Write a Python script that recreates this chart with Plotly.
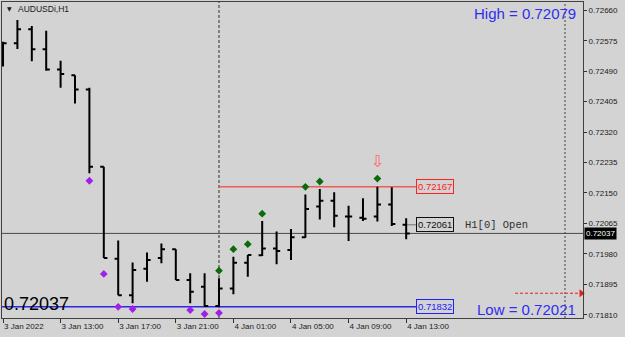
import plotly.graph_objects as go

# ---- data (AUDUSDi, H1) ----
bar_idx = list(range(29))
opens  = [0.72540, 0.72568, 0.72607, 0.72551, 0.72495, 0.72479, 0.72439, 0.72223, 0.71966, 0.71864,
          0.71938, 0.71968, 0.71993, 0.71907, 0.71888, 0.71834, 0.71883, 0.71955, 0.71976, 0.71995,
          0.71991, 0.72026, 0.72112, 0.72128, 0.72084, 0.72081, 0.72084, 0.72118, 0.72061]
highs  = [0.72572, 0.72633, 0.72616, 0.72603, 0.72519, 0.72479, 0.72444, 0.72223, 0.72017, 0.71956,
          0.71984, 0.72009, 0.71993, 0.71926, 0.71926, 0.71912, 0.71972, 0.71977, 0.72072, 0.72042,
          0.72049, 0.72146, 0.72161, 0.72152, 0.72114, 0.72135, 0.72167, 0.72166, 0.72079]
lows   = [0.72503, 0.72552, 0.72518, 0.72491, 0.72444, 0.72400, 0.72205, 0.71968, 0.71864, 0.71842,
          0.71902, 0.71954, 0.71907, 0.71842, 0.71832, 0.71832, 0.71867, 0.71916, 0.71974, 0.71951,
          0.71963, 0.72025, 0.72076, 0.72054, 0.72016, 0.72072, 0.72070, 0.72058, 0.72021]
closes = [0.72568, 0.72607, 0.72551, 0.72495, 0.72482, 0.72439, 0.72223, 0.71968, 0.71864, 0.71935,
          0.71963, 0.71993, 0.71907, 0.71874, 0.71834, 0.71883, 0.71955, 0.71977, 0.71995, 0.71988,
          0.72026, 0.72105, 0.72128, 0.72086, 0.72084, 0.72078, 0.72118, 0.72063, 0.72037]

x_tick_pos = [0, 4, 8, 12, 16, 20, 24, 28]
x_tick_labels = ["3 Jan 2022", "3 Jan 13:00", "3 Jan 17:00", "3 Jan 21:00",
                 "4 Jan 01:00", "4 Jan 05:00", "4 Jan 09:00", "4 Jan 13:00"]
y_tick_vals = [0.71810, 0.71895, 0.71980, 0.72065, 0.72150, 0.72235,
               0.72320, 0.72405, 0.72490, 0.72575, 0.72660]

purple_idx = [6, 7, 8, 9, 13, 14, 15]
purple_val = [0.72184, 0.71924, 0.71832, 0.71826, 0.71823, 0.71812, 0.71815]
green_idx = [15, 16, 17, 18, 21, 22, 26]
green_val = [0.71933, 0.71993, 0.72007, 0.72092, 0.72167, 0.72182, 0.72190]
arrow_idx = [26]
arrow_val = [0.72234]

day_start_idx = 15
day_high = 0.72167
day_low = 0.71832
cur_open = opens[-1]
cur_close = closes[-1]
cur_high = highs[-1]
cur_low = lows[-1]
shift_line_idx = 39.03
shift_arrow_from = 35.56
shift_arrow_price = 0.71870

x_range = [-0.07, 40.28]
y_range = [0.718008, 0.726832]
box_x = 28.68

BG = "#D3D3D3"
FONT = "Liberation Sans, Arial, sans-serif"

fig = go.Figure()

fig.add_trace(go.Ohlc(
    x=bar_idx, open=opens, high=highs, low=lows, close=closes,
    increasing=dict(line=dict(color="black", width=2)),
    decreasing=dict(line=dict(color="black", width=2)),
    tickwidth=0.25, showlegend=False, hoverinfo="skip"))

fig.add_trace(go.Scatter(
    x=purple_idx, y=purple_val, mode="markers",
    marker=dict(symbol="diamond", size=6, color="#A020E8"),
    showlegend=False, hoverinfo="skip"))
fig.add_trace(go.Scatter(
    x=green_idx, y=green_val, mode="markers",
    marker=dict(symbol="diamond", size=6, color="#0B6B0B"),
    showlegend=False, hoverinfo="skip"))
fig.add_trace(go.Scatter(
    x=arrow_idx, y=arrow_val, mode="text", text=["⇩"],
    textfont=dict(family="DejaVu Sans", size=16, color="#FF6464"),
    showlegend=False, hoverinfo="skip"))
# arrow head of the shift marker
fig.add_trace(go.Scatter(
    x=[x_range[1] - 0.12], y=[shift_arrow_price], mode="markers",
    marker=dict(symbol="triangle-right", size=7, color="#E02020"),
    cliponaxis=False, showlegend=False, hoverinfo="skip"))

shapes = [
    dict(type="line", xref="paper", x0=0, x1=1, y0=cur_close, y1=cur_close,
         line=dict(color="#4a4a4a", width=1), layer="below"),
    dict(type="line", x0=day_start_idx, x1=box_x, y0=day_high, y1=day_high,
         line=dict(color="#F05A5A", width=1.5), layer="below"),
    dict(type="line", x0=x_range[0], x1=box_x, y0=day_low, y1=day_low,
         line=dict(color="#2828E6", width=1.5), layer="below"),
    dict(type="line", x0=bar_idx[-1], x1=box_x, y0=cur_open, y1=cur_open,
         line=dict(color="#707070", width=1), layer="below"),
    dict(type="line", x0=day_start_idx, x1=day_start_idx, yref="paper", y0=0, y1=1,
         line=dict(color="#303030", width=1, dash="3px,2px"), layer="below"),
    dict(type="line", x0=shift_line_idx, x1=shift_line_idx, yref="paper", y0=0, y1=1,
         line=dict(color="#404040", width=1, dash="2px,2px")),
    dict(type="line", x0=shift_arrow_from, x1=x_range[1] - 0.2, y0=shift_arrow_price,
         y1=shift_arrow_price, line=dict(color="#E02020", width=1, dash="3px,2px")),
]

annotations = [
    dict(xref="paper", yref="paper", x=0.9914, y=0.965, xanchor="right", yanchor="middle",
         text="High = " + f"{cur_high:.5f}", showarrow=False,
         font=dict(family=FONT, size=15, color="#2E2EF0")),
    dict(xref="paper", yref="paper", x=0.9914, y=0.027, xanchor="right", yanchor="middle",
         text="Low = " + f"{cur_low:.5f}", showarrow=False,
         font=dict(family=FONT, size=15, color="#2E2EF0")),
    dict(xref="paper", yref="paper", x=0.0, y=0.045, xanchor="left", yanchor="middle",
         text=f"{cur_close:.5f}", showarrow=False,
         font=dict(family=FONT, size=18, color="black")),
    dict(xref="paper", yref="paper", x=0.0245, y=0.978, xanchor="left", yanchor="middle",
         text="AUDUSDi,H1", showarrow=False,
         font=dict(family=FONT, size=8.5, color="#1a1a1a")),
    dict(xref="paper", yref="paper", x=0.006, y=0.978, xanchor="left", yanchor="middle",
         text="▼", showarrow=False,
         font=dict(family="DejaVu Sans", size=6, color="#1a1a1a")),
    dict(x=box_x, y=day_high, xanchor="left", yanchor="middle", text=f"{day_high:.5f}",
         showarrow=False, bordercolor="#FF2020", borderwidth=1, borderpad=1, bgcolor=BG,
         font=dict(family=FONT, size=9.5, color="#FF2020")),
    dict(x=box_x, y=cur_open, xanchor="left", yanchor="middle", text=f"{cur_open:.5f}",
         showarrow=False, bordercolor="#101010", borderwidth=1, borderpad=1, bgcolor=BG,
         font=dict(family=FONT, size=9.5, color="#101010")),
    dict(x=box_x, y=day_low, xanchor="left", yanchor="middle", text=f"{day_low:.5f}",
         showarrow=False, bordercolor="#2020FF", borderwidth=1, borderpad=1, bgcolor=BG,
         font=dict(family=FONT, size=9.5, color="#2020FF")),
    dict(x=31.95, y=cur_open, xanchor="left", yanchor="middle", text="H1[0] Open",
         showarrow=False, font=dict(family="Liberation Mono, Courier New, monospace",
                                    size=10.5, color="#303030")),
    dict(xref="paper", x=1, xshift=1, y=cur_close, xanchor="left", yanchor="middle",
         text=f"{cur_close:.5f}", showarrow=False, bgcolor="black", borderpad=1,
         font=dict(family=FONT, size=8, color="white")),
]

fig.update_layout(
    width=625, height=337,
    margin=dict(l=2, r=42, t=2, b=19),
    paper_bgcolor=BG, plot_bgcolor=BG,
    shapes=shapes, annotations=annotations,
    showlegend=False,
    xaxis=dict(range=x_range, rangeslider=dict(visible=False), showgrid=False,
               zeroline=False, tickmode="array", tickvals=x_tick_pos,
               ticktext=x_tick_labels, ticks="outside", ticklen=4, tickcolor="#303030",
               ticklabelposition="outside right",
               tickfont=dict(family=FONT, size=8, color="#202020"),
               showline=True, linecolor="#404040", linewidth=1, mirror=True),
    yaxis=dict(range=y_range, side="right", showgrid=False, zeroline=False,
               tickmode="array", tickvals=y_tick_vals, tickformat=".5f",
               ticks="outside", ticklen=3, tickcolor="#303030",
               tickfont=dict(family=FONT, size=8, color="#202020"),
               showline=True, linecolor="#404040", linewidth=1, mirror=True),
)

fig.write_html("out.html")
